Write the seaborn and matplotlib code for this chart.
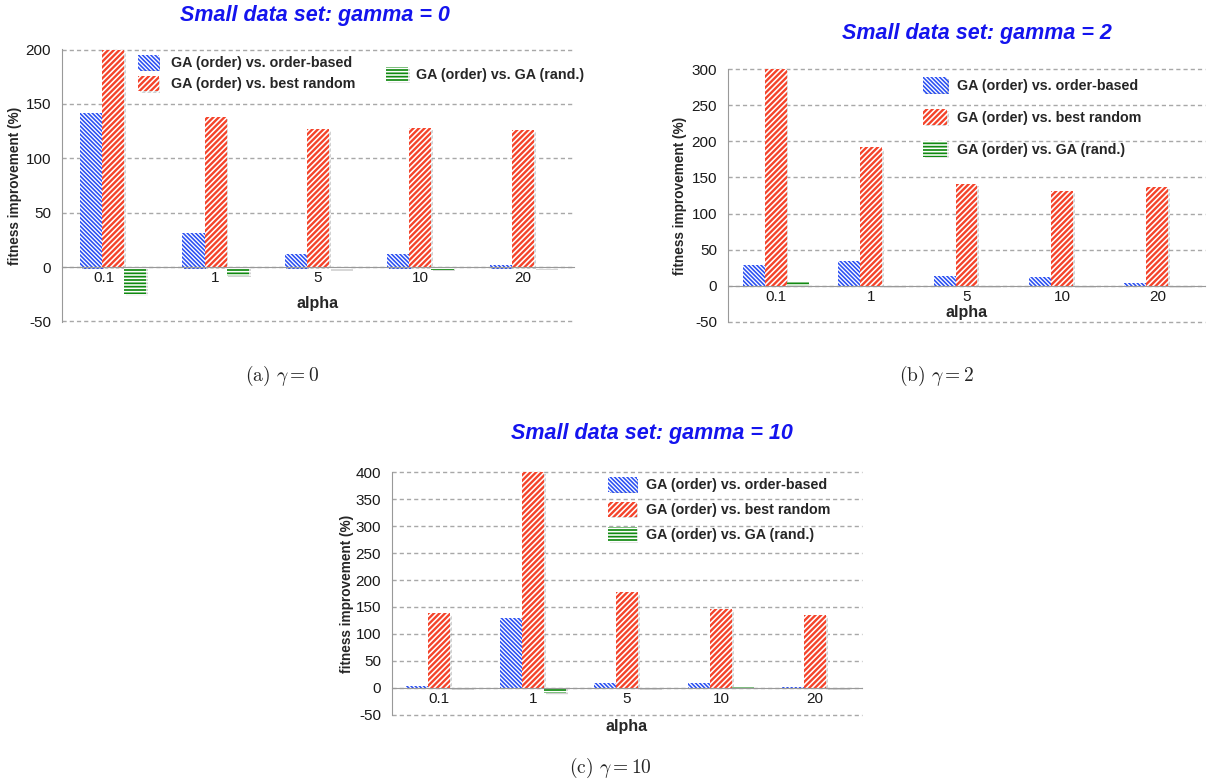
import numpy as np
import pandas as pd
import matplotlib
matplotlib.use("Agg")
import matplotlib.pyplot as plt
import matplotlib.patheffects as pe
from matplotlib.transforms import ScaledTranslation
import seaborn as sns

# categories and series
alphas = ["0.1", "1", "5", "10", "20"]
series = ["GA (order) vs. order-based", "GA (order) vs. best random", "GA (order) vs. GA (rand.)"]

# gamma = 0
g0_order_based = [142, 31, 12, 12, 2]
g0_best_random = [200, 138, 127, 128, 126]
g0_ga_rand = [-25, -8, -2, -3, -1]

# gamma = 2
g2_order_based = [28, 34, 13, 11.5, 4]
g2_best_random = [300, 192, 141, 131, 137]
g2_ga_rand = [5, -2, -1, -2, -1]

# gamma = 10
g10_order_based = [3, 129, 8.5, 9, 2]
g10_best_random = [139, 400, 178, 147, 136]
g10_ga_rand = [-1, -10, -2, 2, -1]

colors = ["#2a4ff2", "#f4432a", "#118a11"]

W, H = 1213, 783

sns.set_style("white")
plt.rcParams["font.family"] = ["Liberation Sans", "DejaVu Sans"]
plt.rcParams["hatch.linewidth"] = 1.15
plt.rcParams["mathtext.fontset"] = "cm"
plt.rcParams["axes.unicode_minus"] = False

shadow = [pe.SimplePatchShadow(offset=(1.2, -1.2), shadow_rgbFace="#999999", alpha=0.45),
          pe.Normal()]


def make_df(a, b, c):
    rows = []
    for s, vals in zip(series, [a, b, c]):
        for al, v in zip(alphas, vals):
            rows.append({"alpha": al, "series": s, "value": v})
    return pd.DataFrame(rows)


def style_bars(ax):
    # blue: blue hatch on white, red: white hatch on red, green: white stripes on green
    styles = [("white", colors[0], "\\" * 8),
              (colors[1], "white", "/" * 6),
              (colors[2], "white", "-" * 5)]
    for cont, (fc, ec, h) in zip(ax.containers, styles):
        for p in cont.patches:
            p.set_facecolor(fc)
            p.set_edgecolor(ec)
            p.set_linewidth(0)
            p.set_hatch(h)
            p.set_path_effects(shadow)


def add_axes_px(left, right, top, bottom):
    return fig.add_axes([left / W, 1 - bottom / H, (right - left) / W, (bottom - top) / H])


def draw_panel(ax, df, top, width, ylab_x, xlab_y):
    sns.barplot(data=df, x="alpha", y="value", hue="series", order=alphas,
                hue_order=series, palette=colors, width=width, gap=0,
                legend=False, ax=ax, zorder=3)
    style_bars(ax)
    ax.set_ylim(-50.6, top + 0.6)
    ax.set_xlim(-0.5, 4.5)
    ax.set_yticks(np.arange(-50, top + 1, 50))
    ax.yaxis.grid(True, linestyle=(0, (3, 2.2)), color="#a8a8a8", linewidth=1.0)
    ax.set_axisbelow(True)
    for s in ["top", "right"]:
        ax.spines[s].set_visible(False)
    ax.spines["left"].set_color("#999999")
    ax.spines["bottom"].set_position(("data", 0))
    ax.spines["bottom"].set_color("#999999")
    ax.spines["bottom"].set_zorder(4)
    ax.set_xticks(np.arange(-0.5, 5, 1), minor=True)
    ax.tick_params(axis="x", which="major", length=0, labelsize=11, pad=3,
                   labelcolor="#1a1a1a")
    ax.tick_params(axis="x", which="minor", length=3, color="#999999", direction="out")
    ax.tick_params(axis="y", length=2, pad=6, color="#aaaaaa", labelsize=11,
                   labelcolor="#1a1a1a")
    for gl in ax.get_ygridlines():
        gl.set_clip_on(False)
    ax.set_ylabel("fitness improvement (%)", fontsize=9.8, fontweight="bold")
    ax.yaxis.set_label_coords(ylab_x, 0.5)
    ax.set_xlabel("alpha", fontsize=11.5, fontweight="bold")
    ax.xaxis.set_label_coords(0.5, xlab_y)


fig = plt.figure(figsize=(W / 100, H / 100), dpi=100)
ax_a = add_axes_px(62, 574, 49, 322)
ax_b = add_axes_px(728, 1205, 69, 322)
ax_c = add_axes_px(392, 862, 472, 715)

draw_panel(ax_a, make_df(g0_order_based, g0_best_random, g0_ga_rand), 200, 0.65, -0.079, 0.095)
draw_panel(ax_b, make_df(g2_order_based, g2_best_random, g2_ga_rand), 300, 0.69, -0.085, 0.067)
draw_panel(ax_c, make_df(g10_order_based, g10_best_random, g10_ga_rand), 400, 0.71, -0.080, -0.016)

# the "0.1" label of panel (a) sits left of its group
lbl = ax_a.get_xticklabels()[0]
lbl.set_transform(lbl.get_transform() + ScaledTranslation(-0.09, 0, fig.dpi_scale_trans))

title_kw = dict(ha="center", va="center", color="#1414ee", fontsize=15.5,
                fontweight="bold", fontstyle="italic")
fig.text(315 / W, 1 - 15 / H, "Small data set: gamma = 0", **title_kw)
fig.text(977 / W, 1 - 33 / H, "Small data set: gamma = 2", **title_kw)
fig.text(652 / W, 1 - 433 / H, "Small data set: gamma = 10", **title_kw)


def legend_px(ax, idx, x, y, spacing, hl, hh, pad):
    handles = [ax.containers[i].patches[0] for i in idx]
    labels = [series[i] for i in idx]
    return ax.legend(handles, labels, loc="upper left", bbox_to_anchor=(x / W, 1 - y / H),
                     bbox_transform=fig.transFigure, frameon=False, borderpad=0,
                     borderaxespad=0, labelspacing=spacing, handlelength=hl,
                     handleheight=hh, handletextpad=pad,
                     prop={"weight": "bold", "size": 10.3})


leg1 = legend_px(ax_a, [0, 1], 138, 55, 0.43, 1.45, 1.2, 0.85)
ax_a.add_artist(leg1)
legend_px(ax_a, [2], 386, 67, 0.4, 1.55, 1.15, 0.55)
legend_px(ax_b, [0, 1, 2], 923, 77, 1.15, 1.7, 1.3, 0.65)
legend_px(ax_c, [0, 1, 2], 608, 477, 0.68, 2.0, 1.2, 0.65)

cap_kw = dict(ha="center", va="center", fontsize=14, family="cmr10")
fig.text(282 / W, 1 - 376 / H, r"(a) $\gamma = 0$", **cap_kw)
fig.text(937 / W, 1 - 376 / H, r"(b) $\gamma = 2$", **cap_kw)
fig.text(610 / W, 1 - 768 / H, r"(c) $\gamma = 10$", **cap_kw)

fig.savefig("out.png", dpi=100)
